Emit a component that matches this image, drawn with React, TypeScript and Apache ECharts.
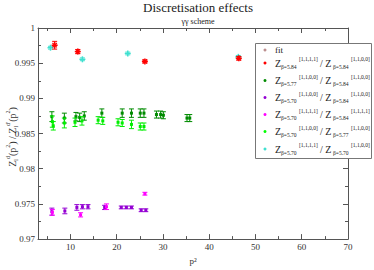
import React, { useEffect, useRef } from "react";
import * as echarts from "echarts";

// [p^2, value, error]
const redData = [[6.6, 0.99755, 0.00055], [11.6, 0.99665, 0.0003], [26.1, 0.99525, 0.0002], [46.4, 0.9957, 0.00025]];
const cyanData = [[5.7, 0.9972, 0.0002], [12.6, 0.99555, 0.0002], [22.4, 0.99638, 0.0002], [46.3, 0.9959, 0.0002]];
const greenData = [
  [6.0, 0.9874, 0.0007], [8.7, 0.9872, 0.0007], [11.2, 0.9874, 0.0006], [12.0, 0.9873, 0.0006],
  [13.0, 0.9875, 0.0006], [16.8, 0.9879, 0.0006], [21.2, 0.9879, 0.0006], [23.2, 0.9879, 0.0006],
  [25.1, 0.9879, 0.0006], [25.9, 0.9879, 0.0006], [28.6, 0.9877, 0.0005], [29.5, 0.9877, 0.0005],
  [30.1, 0.9876, 0.0005], [35.2, 0.9872, 0.0005], [35.8, 0.9872, 0.0005],
];
const limeData = [
  [6.1, 0.9867, 0.0008], [6.3, 0.9861, 0.0006], [8.7, 0.9865, 0.0007], [11.0, 0.9866, 0.0006],
  [12.5, 0.9868, 0.0006], [16.0, 0.9869, 0.0005], [17.0, 0.9868, 0.0005], [20.3, 0.9866, 0.0005],
  [21.2, 0.9865, 0.0005], [23.2, 0.9863, 0.0006], [25.1, 0.986, 0.0005], [25.9, 0.986, 0.0005],
];
const purpleData = [
  [6.0, 0.9739, 0.0005], [8.8, 0.974, 0.0004], [11.4, 0.9745, 0.0004], [12.6, 0.9746, 0.0003],
  [13.8, 0.9746, 0.0003], [17.4, 0.9745, 0.0003], [21.0, 0.9745, 0.0002], [22.1, 0.9745, 0.0002],
  [23.2, 0.9745, 0.0002], [25.3, 0.9741, 0.0002], [26.3, 0.9741, 0.0002],
];
const magentaData = [[6.1, 0.9738, 0.0004], [12.2, 0.97345, 0.0003], [17.8, 0.9746, 0.0004], [26.1, 0.97645, 0.0002]];

const xMajorTicks = [10, 20, 30, 40, 50, 60, 70];
const xMinorTicks = [5, 15, 25, 35, 45, 55, 65];

const legendColors = ["#bc8f8f", "#ff0000", "#008b00", "#9400d3", "#ff00ff", "#00ff00", "#40e0d0"];
const legendRows = [
  null,
  ["β=5.84", "[1,1,1,1]", "β=5.84", "[1,1,0,0]"],
  ["β=5.77", "[1,1,0,0]", "β=5.84", "[1,1,0,0]"],
  ["β=5.70", "[1,1,0,0]", "β=5.84", "[1,1,0,0]"],
  ["β=5.70", "[1,1,1,1]", "β=5.84", "[1,1,1,1]"],
  ["β=5.70", "[1,1,0,0]", "β=5.77", "[1,1,0,0]"],
  ["β=5.70", "[1,1,1,1]", "β=5.70", "[1,1,0,0]"],
];

const FONT = "Liberation Serif";

function errSeries(data: number[][], color: string, marker: string) {
  return {
    type: "custom",
    data,
    renderItem: (params: any, api: any) => {
      const x = api.value(0), y = api.value(1), e = api.value(2);
      const c = api.coord([x, y]);
      const lo = api.coord([x, y - e]);
      const hi = api.coord([x, y + e]);
      const cw = 2.5;
      const st = { stroke: color, lineWidth: 1 };
      const children: any[] = [
        { type: "line", shape: { x1: c[0], y1: lo[1], x2: c[0], y2: hi[1] }, style: st },
        { type: "line", shape: { x1: c[0] - cw, y1: lo[1], x2: c[0] + cw, y2: lo[1] }, style: st },
        { type: "line", shape: { x1: c[0] - cw, y1: hi[1], x2: c[0] + cw, y2: hi[1] }, style: st },
      ];
      if (marker === "plus" || marker === "star") {
        const r = 3;
        children.push({ type: "line", shape: { x1: c[0] - r, y1: c[1], x2: c[0] + r, y2: c[1] }, style: { stroke: color, lineWidth: 1.5 } });
        children.push({ type: "line", shape: { x1: c[0], y1: c[1] - r, x2: c[0], y2: c[1] + r }, style: { stroke: color, lineWidth: 1.5 } });
        if (marker === "star") {
          const d = 2.2;
          children.push({ type: "line", shape: { x1: c[0] - d, y1: c[1] - d, x2: c[0] + d, y2: c[1] + d }, style: { stroke: color, lineWidth: 1.2 } });
          children.push({ type: "line", shape: { x1: c[0] - d, y1: c[1] + d, x2: c[0] + d, y2: c[1] - d }, style: { stroke: color, lineWidth: 1.2 } });
        }
      } else {
        children.push({ type: "rect", shape: { x: c[0] - 1.5, y: c[1] - 1.5, width: 3, height: 3 }, style: { fill: color } });
      }
      return { type: "group", children };
    },
  };
}

export default function App() {
  const ref = useRef<HTMLDivElement>(null);
  useEffect(() => {
    document.body.style.margin = "0";
    const chart = echarts.init(ref.current!, null, { renderer: "svg" });
    const axisLine = { show: true, lineStyle: { color: "#555", width: 1 } };
    const baseX = { type: "value", min: 3, max: 70, splitLine: { show: false } };
    const legendGraphics: any[] = [
      { type: "rect", shape: { x: 255.5, y: 43.5, width: 116, height: 115 }, style: { fill: "#fff", stroke: "#777", lineWidth: 1 }, z: 100 },
    ];
    const rowY = [50, 63, 80.5, 97.5, 114.5, 131.5, 149];
    legendRows.forEach((row, i) => {
      const y = rowY[i];
      legendGraphics.push({ type: "circle", shape: { cx: 265, cy: y, r: 1.5 }, style: { fill: legendColors[i] }, z: 101 });
      const ts = (text: string, x: number, yy: number, size: number) => ({
        type: "text", x, y: yy, z: 101,
        style: { text, fontFamily: FONT, fontSize: size, fill: "#222", verticalAlign: "middle", align: "left" },
      });
      if (!row) {
        legendGraphics.push(ts("fit", 275, y, 9));
      } else {
        legendGraphics.push(ts("Z", 275, y, 10));
        legendGraphics.push(ts(row[0], 281, y + 3.5, 5.5));
        legendGraphics.push(ts(row[1], 299, y - 4, 5.5));
        legendGraphics.push(ts("/ Z", 320, y, 10));
        legendGraphics.push(ts(row[2], 333, y + 3.5, 5.5));
        legendGraphics.push(ts(row[3], 351, y - 4, 5.5));
      }
    });
    chart.setOption({
      animation: false,
      backgroundColor: "#fff",
      textStyle: { fontFamily: FONT },
      title: {
        text: "Discretisation effects",
        subtext: "γγ scheme",
        left: 193,
        textAlign: "center",
        top: -4,
        itemGap: 3,
        textStyle: { fontFamily: FONT, fontSize: 13, fontWeight: "normal", color: "#222" },
        subtextStyle: { fontFamily: FONT, fontSize: 8, color: "#222" },
      },
      grid: { left: 38, right: 26, top: 28, bottom: 25, containLabel: false },
      xAxis: [
        {
          ...baseX, position: "bottom",
          axisLine,
          axisTick: { show: true, inside: true, length: 5, customValues: xMajorTicks, lineStyle: { color: "#555" } },
          axisLabel: { show: true, customValues: xMajorTicks, fontFamily: FONT, fontSize: 9, color: "#333", margin: 3 },
          name: "p²", nameLocation: "middle", nameGap: 14,
          nameTextStyle: { fontFamily: FONT, fontSize: 9, color: "#333" },
        },
        {
          ...baseX, position: "bottom", gridIndex: 0,
          axisLine: { show: false },
          axisTick: { show: true, inside: true, length: 3, customValues: xMinorTicks, lineStyle: { color: "#555" } },
          axisLabel: { show: false },
        },
        {
          ...baseX, position: "top",
          axisLine,
          axisTick: { show: true, inside: true, length: 5, customValues: xMajorTicks, lineStyle: { color: "#555" } },
          axisLabel: { show: false },
        },
        {
          ...baseX, position: "top",
          axisLine: { show: false },
          axisTick: { show: true, inside: true, length: 3, customValues: xMinorTicks, lineStyle: { color: "#555" } },
          axisLabel: { show: false },
        },
      ],
      yAxis: [
        {
          type: "value", min: 0.97, max: 1, interval: 0.005, position: "left",
          splitLine: { show: false },
          axisLine,
          axisTick: { show: true, inside: true, length: 5, lineStyle: { color: "#555" } },
          minorTick: { show: true, splitNumber: 2, length: 3, lineStyle: { color: "#555" } },
          axisLabel: { fontFamily: FONT, fontSize: 9, color: "#333", margin: 3 },
        },
        {
          type: "value", min: 0.97, max: 1, interval: 0.005, position: "right",
          splitLine: { show: false },
          axisLine,
          axisTick: { show: true, inside: true, length: 5, lineStyle: { color: "#555" } },
          minorTick: { show: true, splitNumber: 2, length: 3, lineStyle: { color: "#555" } },
          axisLabel: { show: false },
        },
      ],
      series: [
        errSeries(greenData, "#008b00", "sq"),
        errSeries(limeData, "#00ee00", "sq"),
        errSeries(purpleData, "#9400d3", "sq"),
        errSeries(magentaData, "#ff00ff", "sq"),
        errSeries(cyanData, "#40e0d0", "plus"),
        errSeries(redData, "#ff0000", "star"),
      ],
      graphic: [
        {
          type: "text", x: 12, y: 137, rotation: Math.PI / 2,
          style: {
            text: "Z{sub|l}{sup|d}(p{sup|2}) / Z{sub|l}{sup|d'}(p{sup|2})",
            fontFamily: FONT, fontSize: 10, fill: "#333", align: "center", verticalAlign: "middle",
            rich: {
              sub: { fontFamily: FONT, fontSize: 6, fill: "#333", verticalAlign: "bottom", lineHeight: 14 },
              sup: { fontFamily: FONT, fontSize: 6, fill: "#333", verticalAlign: "top", lineHeight: 14 },
            },
          },
        },
        ...legendGraphics,
      ],
    });
    return () => chart.dispose();
  }, []);
  return <div ref={ref} style={{ width: 374, height: 270 }} />;
}
